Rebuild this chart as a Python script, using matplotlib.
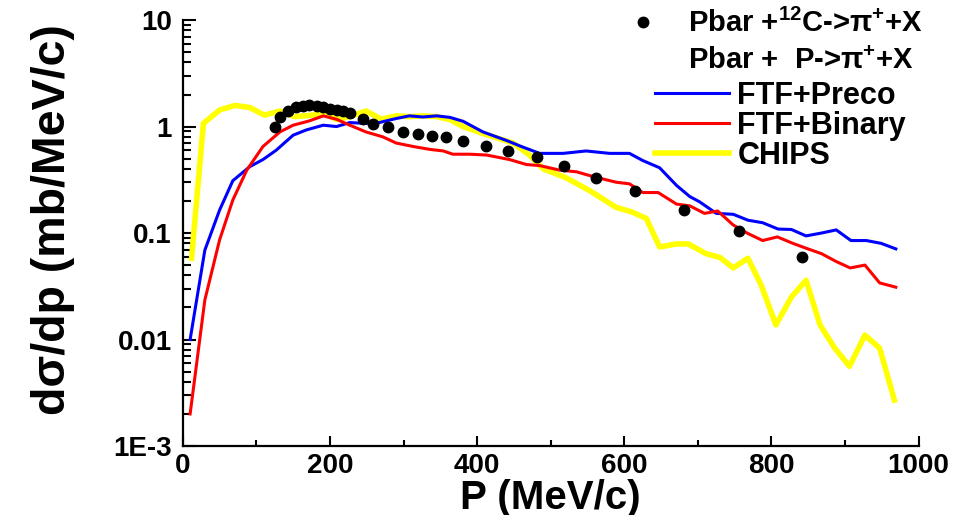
import matplotlib
matplotlib.use("Agg")
import matplotlib.pyplot as plt
from matplotlib.lines import Line2D
from matplotlib.ticker import LogLocator, FixedLocator, MultipleLocator, NullFormatter

plt.rcParams['font.family'] = ['Liberation Sans', 'DejaVu Sans']
plt.rcParams['font.weight'] = 'bold'
plt.rcParams['mathtext.fontset'] = 'custom'
plt.rcParams['mathtext.rm'] = 'Liberation Sans:bold'
plt.rcParams['mathtext.it'] = 'Liberation Sans:bold'
plt.rcParams['mathtext.bf'] = 'Liberation Sans:bold'

# Measured spectrum (Pbar + 12C -> pi+ + X)
p_data = [125, 132, 143, 154, 163, 172, 182, 191, 200, 209, 218, 227, 245, 259,
          279, 299, 319, 339, 358, 381, 412, 442, 481, 518, 561, 614, 681, 756, 842]
ds_data = [1.0, 1.22, 1.40, 1.53, 1.56, 1.58, 1.56, 1.52, 1.47, 1.43, 1.39, 1.35, 1.17, 1.05,
           0.98, 0.89, 0.85, 0.81, 0.79, 0.73, 0.66, 0.59, 0.52, 0.43, 0.33, 0.25, 0.164, 0.105, 0.059]

# FTF+Preco
p_preco = [10, 30, 50, 68, 91, 109, 127, 150, 168, 191, 209, 227, 249, 267, 290, 308, 326,
           345, 363, 381, 408, 440, 460, 485, 517, 548, 580, 607, 625, 648, 671, 689, 702,
           725, 748, 768, 788, 809, 827, 847, 868, 888, 908, 929, 949, 969]
ds_preco = [0.01, 0.069, 0.164, 0.31, 0.42, 0.49, 0.60, 0.83, 0.93, 1.03, 1.0, 1.09, 1.07, 1.09,
            1.19, 1.26, 1.23, 1.26, 1.22, 1.12, 0.89, 0.74, 0.65, 0.56, 0.56, 0.59, 0.56, 0.56,
            0.48, 0.41, 0.28, 0.22, 0.197, 0.153, 0.15, 0.132, 0.125, 0.109, 0.108, 0.094,
            0.1, 0.107, 0.085, 0.085, 0.08, 0.071]

# FTF+Binary
p_binary = [10, 30, 50, 68, 87, 109, 132, 150, 172, 191, 209, 227, 249, 272, 290, 313, 336,
            354, 367, 390, 413, 444, 467, 485, 512, 535, 557, 589, 607, 625, 646, 671, 689,
            709, 727, 748, 768, 788, 808, 829, 847, 868, 888, 907, 927, 947, 969]
ds_binary = [0.002, 0.0235, 0.086, 0.204, 0.39, 0.65, 0.89, 1.03, 1.13, 1.26, 1.17, 1.03, 0.89,
             0.80, 0.70, 0.65, 0.61, 0.59, 0.55, 0.55, 0.54, 0.49, 0.44, 0.43, 0.39, 0.376,
             0.34, 0.30, 0.29, 0.24, 0.24, 0.187, 0.18, 0.153, 0.161, 0.119, 0.099, 0.085,
             0.092, 0.08, 0.072, 0.064, 0.054, 0.047, 0.05, 0.034, 0.031]

# CHIPS
p_chips = [12, 28, 50, 71, 91, 111, 132, 152, 172, 191, 209, 227, 249, 270, 290, 308, 326,
           345, 363, 381, 408, 449, 471, 490, 521, 553, 589, 610, 630, 648, 671, 687, 711,
           730, 748, 768, 786, 806, 827, 847, 866, 886, 906, 927, 947, 967]
ds_chips = [0.058, 1.07, 1.43, 1.58, 1.51, 1.28, 1.40, 1.24, 1.27, 1.33, 1.17, 1.24, 1.40, 1.17,
            1.26, 1.24, 1.26, 1.24, 1.16, 1.0, 0.86, 0.70, 0.54, 0.40, 0.33, 0.25, 0.174,
            0.158, 0.137, 0.074, 0.079, 0.079, 0.064, 0.059, 0.047, 0.058, 0.0325, 0.0137,
            0.025, 0.036, 0.0137, 0.0083, 0.0056, 0.011, 0.0083, 0.0027]

fig = plt.figure(figsize=(9.67, 5.15), dpi=100)
ax = fig.add_axes([0.189, 0.134, 0.761, 0.827])

ax.plot(p_preco, ds_preco, color='#0000ff', lw=2.2, zorder=3)
ax.plot(p_binary, ds_binary, color='#ff0000', lw=2.2, zorder=3)
ax.plot(p_chips, ds_chips, color='#ffff00', lw=4.0, zorder=2)
ax.plot(p_data, ds_data, 'o', color='black', ms=7.5, zorder=4)

ax.set_yscale('log')
ax.set_xlim(0, 1000)
ax.set_ylim(1e-3, 10)

ax.spines['top'].set_visible(False)
ax.spines['right'].set_visible(False)
for s in ('left', 'bottom'):
    ax.spines[s].set_linewidth(1.6)

ax.yaxis.set_major_locator(FixedLocator([1e-3, 1e-2, 1e-1, 1, 10]))
ax.set_yticklabels(['1E-3', '0.01', '0.1', '1', '10'])
ax.yaxis.set_minor_locator(LogLocator(base=10, subs=range(2, 10)))
ax.yaxis.set_minor_formatter(NullFormatter())
ax.xaxis.set_major_locator(MultipleLocator(200))
ax.xaxis.set_minor_locator(MultipleLocator(100))

ax.tick_params(which='both', direction='in', width=1.5, labelsize=20, pad=8)
ax.tick_params(axis='y', which='major', length=9)
ax.tick_params(axis='y', which='minor', length=6)
ax.tick_params(axis='x', which='major', length=7)
ax.tick_params(axis='x', which='minor', length=4)
ax.tick_params(axis='x', pad=5)

ax.set_xlabel('P (MeV/c)', fontsize=29, fontweight='bold', labelpad=0)
ax.set_ylabel('dσ/dp (mb/MeV/c)', fontsize=33.5, fontweight='bold')
ax.yaxis.set_label_coords(-0.147, 0.531)

# data legend
h_data = [Line2D([], [], ls='none', marker='o', color='black', ms=7.5),
          Line2D([], [], ls='none')]
leg1 = ax.legend(h_data, ['Pbar +$^{12}$C->π$^{+}$+X', 'Pbar +  P->π$^{+}$+X'],
                 loc='upper left', bbox_to_anchor=(0.6498, 0.982), bbox_transform=fig.transFigure,
                 frameon=False, fontsize=21, handlelength=1.0, handletextpad=1.04,
                 borderpad=0, borderaxespad=0, labelspacing=0.3)
ax.add_artist(leg1)

# model legend
h_models = [Line2D([], [], color='#0000ff', lw=2.2),
            Line2D([], [], color='#ff0000', lw=2.2),
            Line2D([], [], color='#ffff00', lw=4.0)]
ax.legend(h_models, ['FTF+Preco', 'FTF+Binary', 'CHIPS'],
          loc='upper left', bbox_to_anchor=(0.677, 0.843), bbox_transform=fig.transFigure,
          frameon=False, fontsize=22, handlelength=2.42, handletextpad=0.29,
          borderpad=0, borderaxespad=0, labelspacing=0.0)

fig.savefig('out.png', dpi=100)
